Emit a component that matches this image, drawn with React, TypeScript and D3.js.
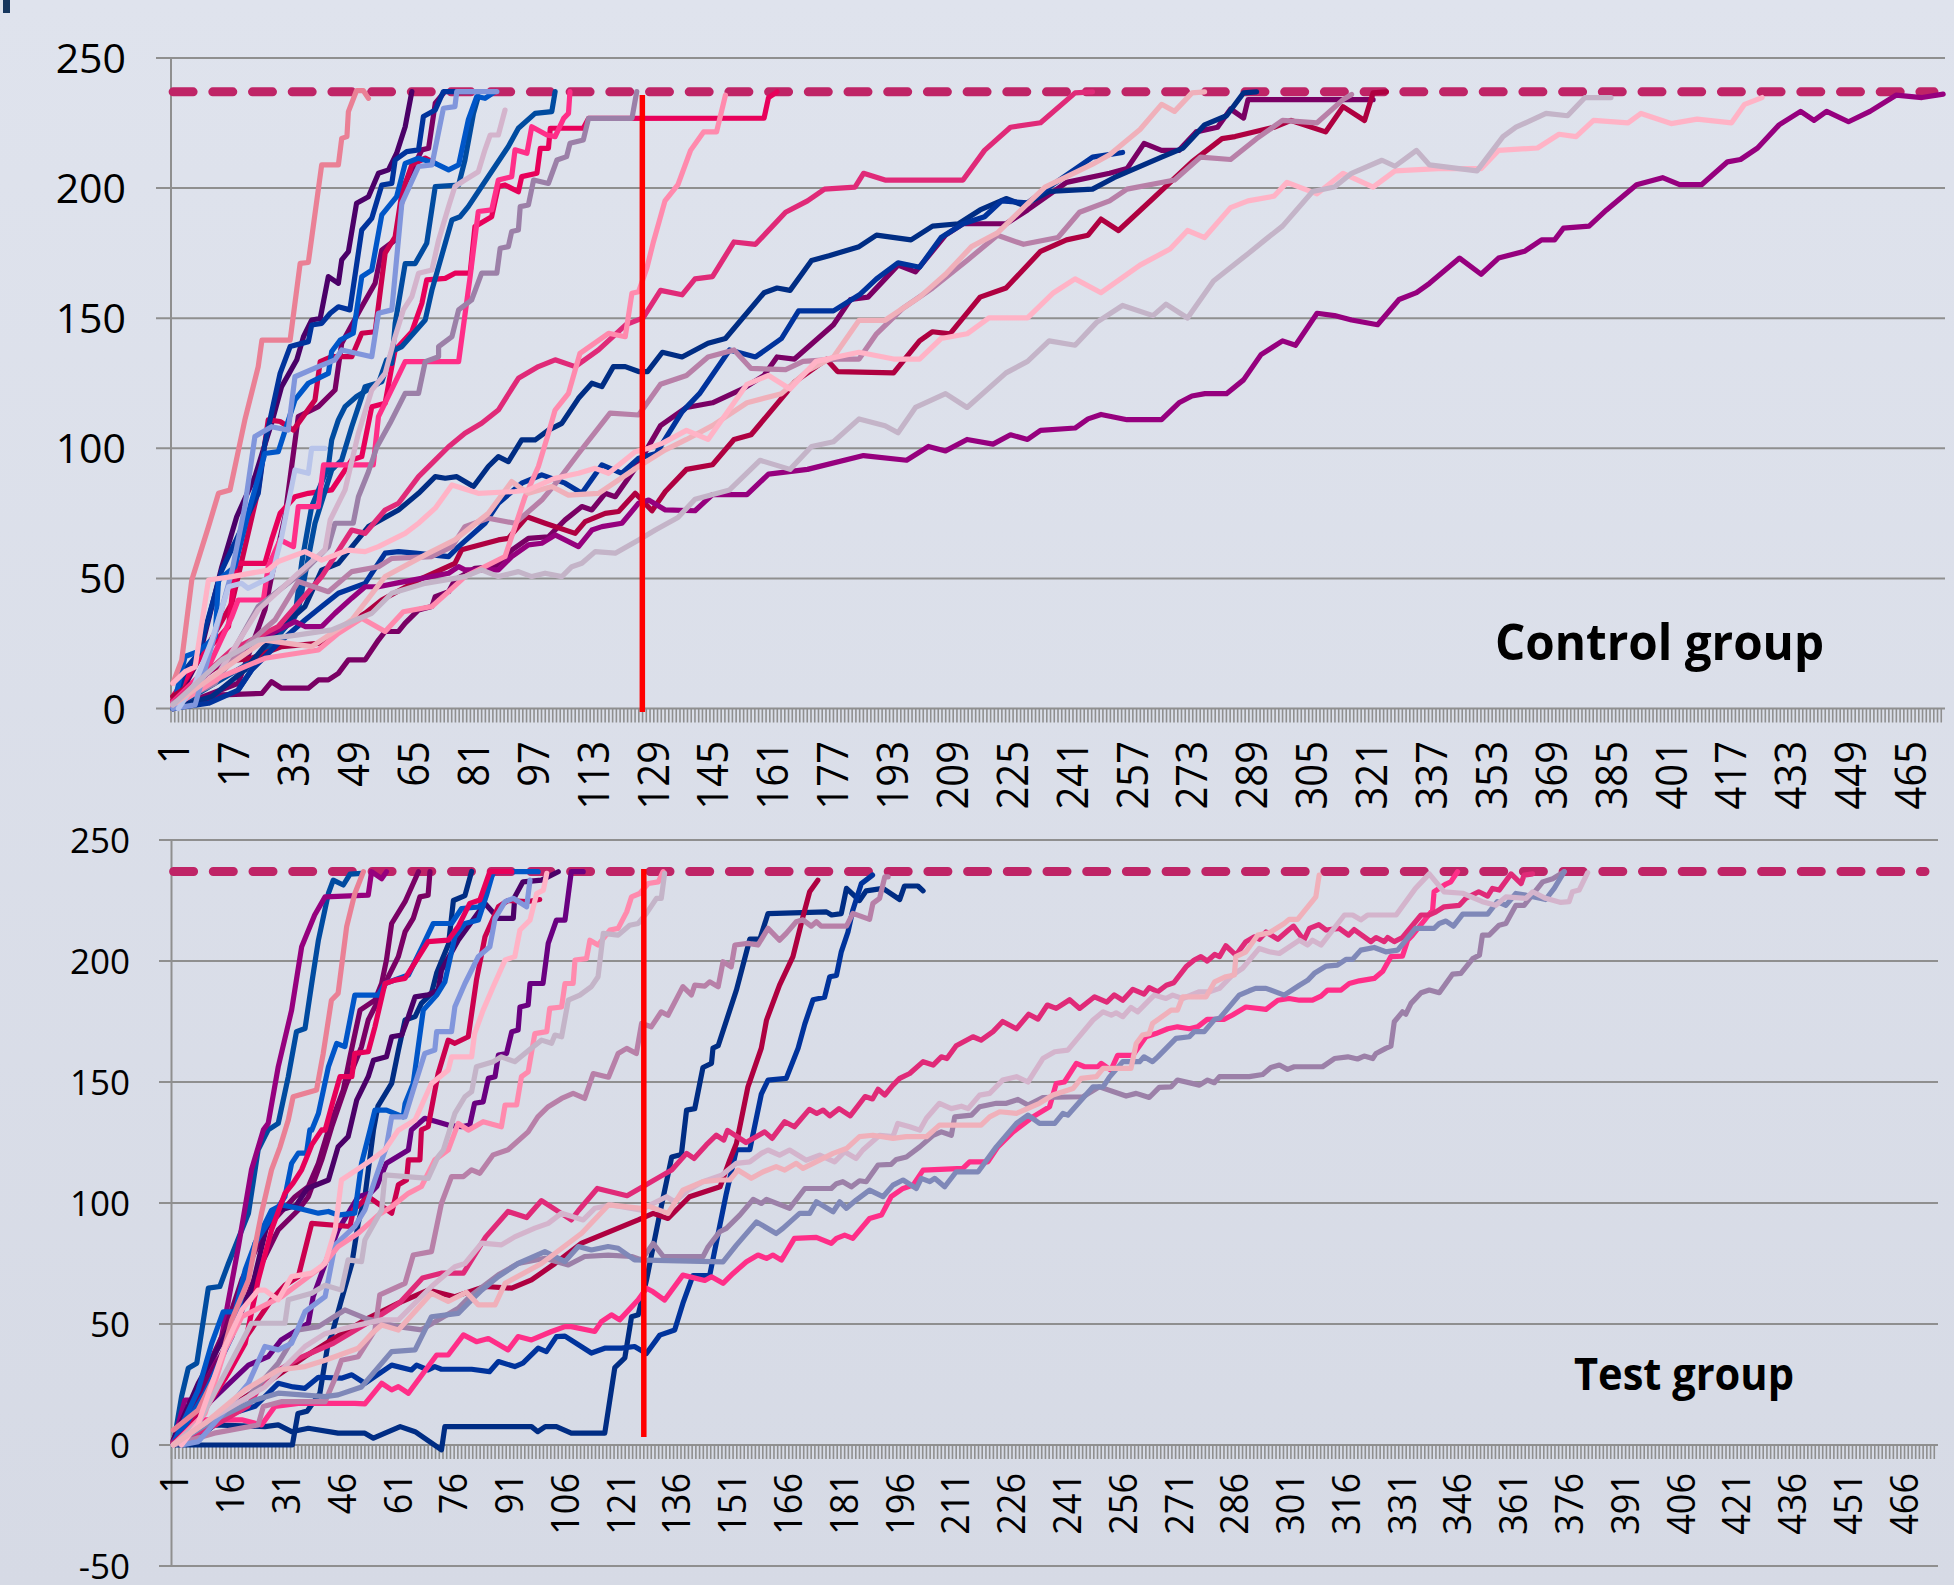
import React from "react";
import * as d3 from "d3";

// ---------- shared axis values ----------
const yTicksTop = [0, 50, 100, 150, 200, 250];
const yTicksBottom = [-50, 0, 50, 100, 150, 200, 250];
const targetValue = 237;
const cutoffCategory = 127.5;
const categoriesTop = d3.range(1, 475);
const categoriesBottom = d3.range(1, 476);
const xLabelsTop = d3.range(1, 475, 16);
const xLabelsBottom = d3.range(1, 476, 15);

// ---------- palette ----------
const NAVY = "#002D84", BLUE = "#00339C", BLUE3 = "#004BA0", BRIGHT = "#0056C8", PERI = "#8196DC", LPERI = "#B8C4EA", SLATE = "#7F88B8";
const DPURPLE = "#4B0068", PURPLE = "#6A0080", MAGENTA = "#96007E", PLUM = "#7A0064", CRIMSON = "#AF0040", RED2 = "#CC004E", HOTRED = "#E8005A";
const HOTPINK = "#FF2E88", ROSE = "#E02A78", PINKL = "#FF8AAD", SALMON = "#EA8095", BLUSH = "#F0B0BA", LPINK = "#FFB3C6";
const MAUVE = "#B880A8", MAUVE2 = "#9C80A8", GREYM = "#C4B4C8", PALE = "#D4B4CC";

// ---------- control group: category, value pairs ----------
const cL1 = [1,2,12.4,16,25.8,27.6,33.9,33.4,36.6,31.5,41.1,31.5,44.7,36.6,49.2,42.4,52.8,46.8,56.4,46.8,60.9,48.1,68,50,75.3,52,78,54.5,79.7,53.3,88.7,53.3,92.3,58.4,96.8,62.9,100.4,63.5,104,66.7,110.3,62.2,113.9,68.6,116.6,69.9,122,71.2,126.5,78.9,129.2,80.1,133.7,76.3,141.7,76,146.4,82.2,155.7,82.2,161.5,90.1,172,91.9,187.1,97.2,198.7,95.4,204.6,100.7,209.2,99,215,103.4,222,101.6,226.7,105.2,231.3,103.4,234.8,106.9,244.1,107.8,247.6,111.3,251.1,113,258.1,111,267.4,111,272.1,117.5,275.6,120.1,279.1,121,284.9,121,289.5,126.3,294.2,136,300,141.3,303.5,139.6,309.3,151.9,314,151,318.6,149.3,325.6,147.5,331.4,157.2,336.1,159.8,339.6,163.4,347.7,173.1,353.5,166.9,358.2,173.1,365.2,175.7,369.8,180.1,373.3,180.1,375.7,184.6,382.6,185.4,387.3,191.6,395.4,201.3,402.4,204,407,201.3,412.9,201.3,419.9,210.1,423.4,211,428,215.4,433.8,224.3,439.6,229.5,443.2,226,446.6,229.5,452.5,225.5,458.3,229.5,465.3,235.7,472.3,234.8,478,236.1];
const cL2 = [1,.7,10.6,3.3,14.2,5.2,25,5.8,27.6,10.3,30.3,7.8,37.5,7.8,40.2,11,42.9,11,45.6,13.5,48.3,18.7,52.8,18.7,56.4,26.3,58.2,29.6,61.8,29.6,63.6,32.8,67.2,37.9,70.8,39.2,71.7,43,75.3,44.9,77,49.4,82.4,53.9,87.8,54.5,92.3,60.9,96.8,65.4,102.2,66,106.7,72.5,111.2,77.6,113.9,76.3,117.5,82.7,120.2,81.4,126.5,94.2,132.4,108.7,139.4,115.7,146.4,117.5,154.5,122.8,160.3,128,163.8,135.1,168.5,134.3,179,147.5,183.6,157.2,188.3,158.1,196.4,170.4,201.1,167.8,209.2,181.9,213.9,186.3,225.5,186.3,231.3,191.6,241.8,202.2,253.4,205.7,258.1,207.5,262.7,217.2,267.4,214.5,272.1,214.5,276.7,221.6,282.5,223.4,286,230.4,289.5,226.9,290.7,234,316.3,234,324.4,234];
const cL3 = [1,0,11.5,4.6,20.4,14.8,29.4,30.2,36.6,39.2,41.1,53.2,45.6,55.8,53.7,69.9,61.8,76.3,67.2,82.7,71.7,89.1,74.4,88.5,77.5,89.1,82,85.3,86,93,88.7,96.8,91.4,94.9,95,103.2,98.6,103.2,102.2,107,105.8,109.6,110.3,119.2,113.9,125,116.6,123.7,119.7,131.4,122.9,131.4,126.5,129.5,128.9,129.5,132.9,136.9,138.2,135.1,145.2,140.4,149.9,142.2,160.3,159.8,163.8,161.6,167.3,160.7,173.1,172.2,177.8,174,185.9,177.5,190.6,181.9,199.9,180.1,205.7,185.4,212.7,186.3,218.5,191.6,225.5,196,230.2,193.4,237.1,198.7,248.8,199.6,254.6,204,267.4,211.9,273.2,215.4,279,224.3,284.9,227.8,289.5,236.6,293,237];
const cL4 = [1,0,10.6,2,18.6,7.1,22.2,14.8,29.4,25,36.6,34,41.1,39.2,45.6,44.3,52.8,48.1,58.2,59.7,61.8,60.3,66.3,59.7,75.3,58.4,78,62.2,85.1,71.2,88.7,78.9,95,86.6,100.4,89.8,106.7,86.6,111.2,82.7,116.6,93.6,122,90.4,126.5,96.2,131.2,98,138.2,114,142.9,121,151,137.8,158,135.1,165,142.2,169.6,152.8,179,152.8,186,159,190.6,165.1,196.4,171.3,202.2,169.6,208,181,213.9,186.3,219.7,189,224.3,195.1,231.3,194.3,237.1,200.4,248.8,211.9,256.9,213.7];
const cL5 = [1,2,16.9,22.5,29.4,31.5,41.1,50.7,49.2,68.6,52.8,67.3,58.2,76.3,61.8,78.9,67.2,89.1,70.8,94.2,75.3,100.6,79.7,105.8,84.2,109.6,88.7,114.7,94.1,126.9,99.5,131.4,104,134,109.4,131.4,115.7,137.8,123.1,147.5,127.7,150.1,132.4,160.7,138.2,159,141.7,165.1,146.4,166,152.2,179.3,158,178.4,166.1,190.7,172,195.1,176.6,199.6,184.8,200.4,187.1,205.7,192.9,203.1,213.9,203.1,219.7,214.5,226.7,223.4,234.8,225.1,244.1,236.6,248.8,237];
const cL6 = [1,9.7,4.3,14.2,7,16,10.6,49.4,16.9,50.7,26.7,53.2,29.4,56.5,36.6,60.3,41.1,57,48.3,60.9,52.8,60.3,56.4,62.2,63.6,67.3,67.2,71.2,71.7,77,76.2,85.9,83.3,82.7,93.2,83.4,96.8,84,104,88.5,110.3,90.4,114.8,92.3,118.4,90.4,125.6,98.7,129.2,100,133,102,139.4,106.9,145.2,103.4,155.7,124.6,161.5,128,167.3,122.8,174.3,133.4,185.9,136.9,195.2,134.3,202.2,134.3,208,142.2,215,144,220.9,150.1,231.3,150.1,238.3,159.8,244.1,165.1,251.1,159.8,261.6,170.4,269.7,176.6,274.4,183.7,279,181,286,192.5,290.7,195.1,297.7,196.9,301.2,202.2,309.3,197.8,316.3,205.7,324.4,200.4,330.3,206.6,341.9,207.5,353.5,207.5,358.2,214.5,368.7,215.4,374.5,220.7,379.1,219.8,383.8,226,393.1,225.1,396.6,228.7,404.7,224.8,411.7,226.5,421,225.1,424.5,232.2,429.2,234.8];
const cL7 = [1,4.6,15,18,22.2,19.3,30.3,23.8,40.2,25,52.8,36.6,57.3,41.7,67.2,49.4,77,55.8,78.8,61,88.7,64.8,91.4,65.4,96.4,73.7,101.3,71.2,109.4,67.3,112.1,71.8,117.5,75,121.1,75.7,125.6,82.7,130.1,76,133.7,83.4,139.4,91.9,146.4,93.7,152.2,103.4,156.8,105.2,166.1,121,168.5,125.4,177.1,134.2,180.1,129.5,195.2,129,202.2,141.3,205.7,144.8,210.4,144,218.5,158.1,225.5,161.6,234.8,175.7,241.8,180.1,247.6,181.9,251.1,188.1,255.8,183.7,265.1,196,275.6,210.1,283.7,219,287.2,219.8,297.7,223.4,302.3,226,311.6,221.6,316.3,231.3,322.1,226,324.4,236.6,328,237];
const cL8 = [1,2,12.4,11,21.3,25,28.5,34,34.8,48.8,42.9,44.9,49.2,52.6,56.4,54.5,60,57.7,70.8,58.4,76.2,62.2,79.7,69.9,86,73.1,93.2,71.2,100.4,80.1,104.9,87.8,110.3,98,118.8,113.5,126.5,112.8,132.4,124.6,139.4,128,145.2,135.1,152.2,137.8,156.8,130.7,166.1,130.2,170.8,133.4,180.1,134.3,185.9,134.3,190.6,144,197.6,153.7,205.7,161.6,215,172.2,223.2,181.9,230.2,178.4,239.5,181,245.3,190.7,253.4,195.1,258.1,199.6,270.9,203.1,277.9,211.9,286,211,293,219,300,226,309.3,225.1,316.3,234,318.6,236];
const cL9 = [1,1.4,14.2,18.7,24,26.3,34.8,28.3,43.8,30.2,54.6,36.6,60,44.3,69,48.1,79.7,50.7,84.2,53.3,88.7,50.7,94.1,52.6,97.7,50.7,101.3,52,105.8,50.7,108.5,54.5,111.2,55.8,114.8,60.3,120.2,59.7,126.5,64.8,131,68.6,137.1,73.4,141.7,80.4,151,84,159.2,95.4,167.3,91.9,173.1,100.7,179,102.5,185.9,111.3,192.9,108.7,196.4,106,201.1,115.7,209.2,121,215,115.7,225.5,129,231.3,133.4,237.1,141.3,244.1,139.6,249.9,148.4,256.9,154.9,265.1,151,268.6,155.4,274.4,150.1,281.4,164.3,290.7,174.8,295.3,180.1,300,185.4,308.1,198.7,314,200.4,318.6,205.7,326.8,210.7,330.3,208.4,336.1,214.5,339.6,208.9,352.4,206.6,359.4,219.8,362.9,223.4,371,228.7,376.8,227.8,381.5,234.8,388.5,234.8];
const cL10 = [1,1.4,25.8,26.3,38.4,23.8,49.2,34,58.2,50.7,69.9,59.7,77,64.8,86,75,92.3,87.2,96.8,82.7,103.1,85.3,107.6,82,115.7,82.7,126.5,93,133.7,99.4,139.4,103.4,146.4,108.7,155.7,117.5,165,121,172,129.8,179,135.1,185.9,149.2,192.9,149.2,202.2,158.1,209.2,166.9,216.2,177.5,223.2,182.8,230.2,192.5,236,200.4,248.8,209.2,253.4,212.8,261.6,222.5,267.4,232.2,270.9,229.5,275.6,236.6,279,237];
const cA = [1,9.7,3.4,18.7,6.1,49.4,10.6,69.9,13.3,82.7,16.4,84,20.4,110.9,24,131.4,25,141.6,32.6,141.6,35.3,171.1,37.5,171.4,41.1,208.9,45.6,208.9,46.5,219.1,47.9,219.8,48.3,229.4,50.5,237.5,52.3,237.5,53.7,234.5];
const cB = [1,0,7.9,18.7,14.2,54.5,18.2,73.7,23.1,89.1,27.6,109.6,30.3,123.7,34.4,134,36.2,142.9,38.4,149.3,40.7,149.9,42.9,166,45.6,163.4,46.5,172.4,48.3,175.6,50.5,194.2,53.7,196.7,56.4,205.7,59.1,207,61.3,213.4,63.6,223.6,65.4,237.1];
const cC = [1,0,4.3,14.8,7.9,21.2,14.2,53.2,24,82.7,25.8,101.9,29.9,128.8,32.6,139.1,37.5,141,38.4,147.4,41.1,148,43.4,151.9,45.6,154.4,48.7,153.2,51.9,183.9,54.6,188.4,57.3,201.2,60,201.8,60.9,210.8,64,214,67.2,214.7,68.5,227.5,71.7,230,73.9,237.1,81.5,237.1];
const cE = [1,0,4.3,20,7.9,21.9,12.4,27.6,13.3,49.4,17.7,54.5,21.3,75,25.8,98,29.4,98.7,33.9,118.6,37.5,125,42.9,128.8,43.8,137.2,46.1,141.6,49.6,144.2,51.9,166,54.6,168.5,57.3,189.7,61.3,196.7,63.6,209.5,67.2,211.5,71.7,209.5,75.3,207,78,208.9,80.6,226.2,82.9,235.2,85.1,234.5,87.8,237.1];
const cF = [18.6,7.1,25.8,22.5,33.9,35.3,35.7,55.8,38.4,77.6,42.9,93,43.8,103.2,45.6,110.9,47.4,116,50.5,119.9,56.4,125,58.6,134,60,132.7,60.9,148,63.6,171,66.3,171,69.4,178.8,71.7,200.6,78,201.2,79.7,210.8,82,228.7,83.3,235.2];
const cG = [1,0,25.8,21.2,34.8,37.9,39.3,71.2,43.8,91.7,46.5,95.5,49.2,108.3,52.8,123.7,57.3,125.6,60,137.2,62.7,139.1,69,149.3,70.8,160.8,74.4,178.8,76.2,187.8,78.4,189,80.6,192.9,84.2,200.6,91.4,216,94.1,223,98.6,228.7,103.1,229.4,104,237.1];
const cH = [1,0,7,1.4,12.4,29,16.9,52.6,20.4,77.6,23.1,104.5,27.6,108.3,32.1,107,33.9,127.5,40.2,131.4,44.7,134,46.5,137.8,54.6,135.2,56.4,151.9,60,153.2,62.7,194.2,67.2,208.3,70.8,208.9,73.9,230.7,77,231.3,77.5,237.1,88.3,237.1];
const cI = [2.5,0,7,9.7,11.5,26.3,16,46.8,19.5,48.1,21.3,46.2,27.6,50.7,30.3,66,33.9,91.7,37.5,90.4,38.4,100,42,100];
const cJ = [1,4.6,7.9,18.7,16,31.5,18,55.8,25.8,55.8,27.6,64.8,29.9,75,33.9,81.4,37.5,82.7,43.8,84,49.2,95.5,51.9,96.8,54.6,116,58.2,117.3,60,131.4,60.9,137.8,65.4,144.8,68.1,155.7,69.4,164.7,74.4,165.3,77,167.3,81.1,167.3,82.4,185.2,86.9,189,88.7,200.6,90.5,201.2,94.1,198.6,95,204.4,99.1,205.7,100,215.3,102.2,215.3,102.7,223,111.6,223,113,226.8,160.3,226.9,161.5,234.8,163.8,237];
const cK = [1,2.6,10.6,16,16.9,35.3,18.6,41.7,25.4,41.7,26.7,54.5,29.9,64.8,33.5,62.2,34.8,77.6,40.2,77.6,41.6,93.6,55,93.6,56.4,112.2,63.6,133.3,78,133.3,81.1,166,83.3,191,86.9,191.6,88.7,203.1,92.3,204.4,93.2,214.7,96.4,213.4,97.7,223.6,101.8,220.4,104,219.8,106.3,226.8,107.6,228.7,108,237.1];
const cM = [1,1.4,12.4,9.7,24,39.2,36.6,53.2,42.9,62.2,44.7,71.2,49.6,71.2,51,81.4,53.7,91,56,100.6,59.5,109.6,63.6,121.1,67.2,121.1,69,133.3,72.6,135.2,72.6,139.1,76.2,142.9,78,153.2,81.5,157,84.2,167.3,88.3,167.3,89.2,176.9,91.4,177.5,92.3,183.3,94.1,183.9,94.6,192.9,96.8,193.5,98.2,203.1,102.2,201.8,104.5,210.8,107.1,212.1,108,217.2,111.6,218.5,113,226.8,124.7,226.8,126,237.1];
const cN = [1,1.4,13.3,13.5,24,37.9,34.8,52,42,60.9,43.4,72.5,47.4,84,51,105.8,54.6,122.4,58.2,128.8,60.9,143,63.1,153.2,65.4,158.3,67.2,167.3,70.8,168.5,72.6,180,75.3,192.9,77,200.6,79.7,203.1,83.3,206.3,85.1,214.7,86.5,220.4,88.7,220.4,90.5,230];
const cO = [1,.7,14.2,12.3,25.8,19.3,40.2,22.5,45.6,28.9,51.9,34.7,58.2,29.6,63.1,37.2,70.8,39.2,75.3,44.9,79.7,50.7,90.5,58.4,92.3,66,95.9,81.4,99.5,93,102.2,105.8,104,114.7,107.6,121.1,110.7,136.5,118.4,144.2,122.9,142.9,124.7,159.6,126.5,160.2,128.7,169.2,130.5,179.4,133.6,195.1,137.1,201.3,140.5,214.5,144,221.6,147.5,221.6,149.9,235.7];
const cP = [1,3.3,9.7,22.5,16.9,40.4,24,84,26.7,110.9,29.9,110.3,33.5,107,39.3,118.6,40.7,133.3,43.8,135.2,49.2,135.2,51.9,144.2,55.5,144.8,58.2,175,60.9,181.3,62.7,198,65.4,208.9,69,211.5,71.7,209.5];
const cQ = [1,0,18.6,9.7,25.8,37.9,27.6,50.7,31.2,73.7,34.8,112.2,40.2,116,44.7,122.4,46.5,140.4,51.9,154.4,55.5,163.4,57.3,176.2,60.9,180,63.6,201.8,68.1,214.7,69.9,215.3,71.7,232.6,73.9,236.4];

// ---------- test group: category, value pairs ----------
const tT1 = [1,.7,12,8,21,16,26,28,35,36,44,42,56,53,62,59,68,69,73,71,79,71,85,86,91,96.5,96,94,100,101,108,93,110,97,115,106,123,103,128,107.4,132,111,135,113.6,139,120.5,141,118.4,144.3,124,147,128,149,126,150,130,155,125,160,129.4,162,126.7,165.4,133.6,168,131.5,172,138.7,174,137,175.7,138.4,177.5,136,180,139,183,136,187,144,189,143,190.5,147,192.3,144.6,194.5,148.7,196.3,151.5,199,153.5,202.6,158.4,205.3,157,207.5,160.4,209,159.7,211.5,165,216,168.7,218.2,167.3,221.4,170.8,224,175,227.7,172,231,178,233.5,176,236,181.8,238.4,180.4,242,184,244.7,180.4,248.7,185.2,252,183,254,186,256.3,183.8,259,188.3,262,186.3,263.4,189,265.7,187.3,268,190,270,191,273.3,197.6,275.5,200.4,277.3,201.8,279,200,281,202.7,282.3,201.8,284,206.3,286.7,202.4,289.4,208,291.7,210,293,209,294.8,212,298,209,301,213,302.2,214.4,305,208.6,306.5,213.5,309,215,311,212.8,314.5,213.5,317,210.7,318.5,213,323,208,324.4,209.7,326.6,208,327.5,209.7,329.3,208,331.5,209.7,336.5,219,338.7,219,340.5,220.3,342.7,222.4,346.8,223,348.6,226,352,228.6,354.4,226.8,355.7,230,357.5,229.3,360.7,236,363.4,232,364.2,235.5,366.5,236];
const tT2 = [1,0,33,0,34.5,13,37,14,40.4,21.4,42.6,42,43.5,45,46.2,60,49,75,50.7,91.6,52.5,102.6,54.8,130,56,140,59.7,149.4,61.5,163,63.3,175.6,66,177,67.7,182.5,70.4,186.6,71.8,195,75,207,76.3,225,79.4,227,81.2,237];
const tT3 = [1,0,7.7,2.8,12,8.3,25.6,7.6,29.2,8.3,32.8,5.5,37.3,6.9,45.3,4.9,52.5,4.9,54.8,2.8,57.9,4.9,62,7.6,66,5.5,73.1,-2,74,7.6,82,7.6,97.3,7.6,99,5.5,101,7.6,104,7.6,108,4.9,117,4.9,119.7,32,122.4,36,124.2,53,126,53.8,128.2,68,131.8,95.7,135,119,137.6,120,139,138.4,141.2,139,143.4,156,145.7,157.7,146.1,164,147.5,165,152.4,188,156,209,158.7,209,160.9,219.6,176.6,220.3,178,219,180.6,219.6,182,230,185.5,225,187.3,229,191.8,230,196.3,225.4,197.6,231,201.2,231,202.6,229];
const tT4 = [1,0,7.7,6.2,16.7,13,23,16,29.2,25.5,33.2,24,36.4,23.4,40,28,46.2,27.6,49,29,52.5,25.5,59.7,33,65,31,66.4,33,69.5,31,71.3,32.4,73.1,31.3,81.2,31.3,86,30.3,88.4,34.5,92.8,32.4,95,33.8,99.1,40,101.3,38.6,104,44.8,106.3,45,113.4,38,117,40,121.5,40,125,40.7,128.2,37.8,131.8,45.4,135.8,47.5,138,58.5,140.7,70,145.2,70,149.7,104,152.4,122,156,122,159.1,145,160.9,150.8,165.8,151.5,169,164,170.8,174,173,184,176.1,185,177.5,193.5,179.3,194,180.6,203.8,182.4,212,183.7,221,186,232,189,235.5];
const tT5 = [1,.7,16.7,16,28.3,28,36.4,36.5,43.5,43.4,52.5,51.7,61.5,58.6,69.5,64,76.7,61.3,84.8,65.5,92,64.8,97.3,68.2,103.6,75,110.8,83.4,118,88,126,93,130,95.7,134,93.6,139.8,102.6,148,106.7,150.6,117.7,152.4,124.6,155.5,148,159.1,164,160.5,175.6,164,190,167.6,201.8,170.3,218.3,172.1,228.6,174.3,233.4];
const tT6 = [1,0,12,4.9,23.8,8.3,25.2,15.9,30,17.9,41.8,17.9,44.5,27.6,46.2,35,50.7,36.5,55.2,47.5,56.5,62,63.3,66.8,65.5,78.5,70.4,79.9,73.1,99.9,75.8,110.9,79,110.9,81.2,113.7,83.4,112.3,87,119.9,91,122,96.4,129.4,99,135.6,101.8,139.8,105.4,143.2,108.5,145.3,111.6,143.2,113.9,153.5,118,152,120.6,161.8,122.9,163.9,125.5,161.8,126.9,174.2,129.5,172.8,132.2,179,134,177.6,138,189.4,140.3,186,141.2,190,143.9,189.6,145.2,191.4,147.5,189.4,148.8,199.7,151,197.6,152,206.6,155.5,207.3,158.2,206.6,160.9,213.5,164,208.6,165.8,211.4,168.5,216.2,170.3,217,172.5,214.4,173.9,216.2,175.2,214.4,182,214.4,183.7,219.7,188.2,217.2,189.1,223.8,190.9,225.9,192.3,234.8,193.2,234.8];
const tT7 = [1,0,12,10.4,23,18.6,29.2,21.4,41.8,20,45.3,20.7,51.6,24,59.7,38.6,66,39.3,70.4,53,77.6,54.4,80.3,58.6,83.9,64,88.4,69.6,93.7,75,100.9,79.9,106.3,75.8,109.9,82,113.4,80.6,117.9,82,120.6,81.3,125,76.5,128.2,76.4,148.8,75.7,152.4,82.6,157.8,92.2,163.1,87.4,164.9,89.5,169.4,95.7,172.1,95.7,173.9,100.5,178.4,96.4,180.2,100.5,182,97.8,184.6,101.2,188.2,105.3,191.8,102.6,194.5,107.4,197.2,109.5,200.8,106,202.1,110.2,204.4,108.8,205.7,110.2,208.4,106.7,211.5,112.9,217.4,112.9,222.3,123.2,227.7,132.9,230.8,136.3,233.9,132.9,238,132.9,240.2,137,241.5,136.3,248.3,148,251,148,252.7,152,256.3,158.4,260.8,158.4,262,160.4,264.3,158.4,265.7,160.4,270.6,168,274.2,168.7,275.5,170.8,278.2,170.8,281,175.9,282.3,176.3,287.6,185.9,290.3,187.7,292,188.7,294.8,188.7,299.7,185.9,303.8,190,306,192,307.8,194.9,311,197.9,314,198.3,316.3,200.7,318.1,200.7,320.3,204.5,323.9,205.6,327,203.8,330.2,204.5,335,213.5,340,213.5,341.4,215.5,343.2,216.5,345.2,214.4,347.7,219.4,354.4,219.4,357,224.5,359.3,223,362,227.9,364.7,227.2,370,225.4,372.3,230,375,236.9];
const tT8 = [1,0,7.7,10.4,19.4,10.4,24.7,8.3,28.3,15.9,34.6,17.2,41.8,17.2,49.8,17.2,52.5,17,57,25.5,59.7,22.8,61.5,24.1,64.2,21.4,71.8,37.2,74.9,37.2,79,45.5,82.5,42.7,85.7,44,91,39.3,93.7,44.8,97.3,43.4,102.7,46.9,106.3,48.9,108,48.9,114.3,46.9,116.1,51,118.8,53.8,121,51.7,126,60,128.2,64.8,130,63.3,133.1,59.9,138,70.2,143.9,68,145.7,69.5,148.8,66.8,151.5,70.9,155.1,75.7,158.2,78.5,160.5,77.1,162.2,78.5,164.5,76.4,168,85.4,173.9,85.8,177.9,83.3,179.3,85.4,181.5,86.7,183.7,85.4,188.2,93.6,191.4,95,194,102.6,197.2,106,199.9,107.4,202.6,113.6,213.3,114.3,215.1,117,220,117,222.7,123.2,226.8,129.4,232.1,135.6,236.6,139.8,238.4,149.4,240.6,150,243.8,157.7,246,156.3,249.6,156.3,250.5,157.7,253.1,154.9,254.9,161,259,161,262.5,168.7,265.2,170,268.4,172,271,172.8,274.2,172,276.4,172.8,279,175.9,283.6,175.9,285.8,177.7,289.4,181,294.8,180,298,183.8,301,184.5,303.8,183.8,307.3,183.8,309.6,185.5,311.4,188,315,188,317.2,190.7,319.9,191.8,323.9,192.8,326.2,195.8,328.4,201.8,331.5,202,332.9,208.6,334.2,210.7,339.6,221,340,228.6,343.2,231.8,344.5,232.7,346.3,236.9];
const tT9 = [1,0,9.5,9,20.3,22.8,29.2,31,36.4,32.4,41.8,35,50.7,40,54.3,46,57,49.6,61.5,47.5,70.4,62.7,74.9,59.3,79.8,63.1,83,57.9,87.5,57.9,90.2,66.8,100,75,110.8,87.5,118,99.2,126.9,97.8,128.2,99,134,95.7,138,105.3,143.4,108.8,147.9,109.5,150.6,109.5,152.8,113.6,156.4,110.2,159.6,112.9,163.1,115,165.4,113.6,168.5,116.4,170.3,114.3,178.4,120.5,182,122.5,185.5,127.4,189.1,128,194.5,126.7,198.1,127.4,203.5,127.4,207,132.2,212.4,132.2,218.2,132.2,220.5,135.6,223.2,137.7,227.7,137,233.9,141.2,237.5,144.6,242.9,147.3,245.1,151.5,249.2,152.2,251,155.6,258.5,155.6,259.9,165.9,261.6,169.4,263.4,170,264.3,174.2,269.3,179.7,271,179.7,272.4,185.2,278.7,185.2,281,191.4,284,193.5,286.3,194.2,286.7,201.8,289.4,203.8,292.6,210.7,295.7,211.7,299.7,215.5,301,217.2,303.3,217.2,308.2,226.5,309.1,235.5];
const tT10 = [1,0,12,11.7,25.6,24,36.4,40.7,41.8,46,49,49,57,51.7,61.5,51.7,70.4,65.5,76.7,73.7,79.4,75,83.9,83.4,89.2,82.7,92.8,86,98.2,89.6,101.8,91.6,105.4,95.8,111.2,93,114.3,97.8,118.8,99.2,126.9,97,128.2,98.4,133.6,102.6,135.8,100.5,139.4,105.3,143.4,108.8,148.4,111.5,152.4,116.4,156,117,159.1,120.5,160.9,121.9,164,119.8,166.7,121.9,171.2,117.7,174.8,119.8,178.8,117,181.5,121.2,184.6,118.4,186.4,121.9,190.9,128,194.5,127.4,195.8,132.9,199,131.5,201.7,130.1,203.5,135,207,141.2,210.2,139,212.9,140,214.7,139,217.8,144.6,220.5,145.3,224,150.8,227.7,152.2,230.8,150,234.8,159.7,238,162.5,241.5,163.2,248.3,175.6,251,179,253.2,177.6,254.5,178.6,256.3,177,258.5,180.8,260.3,179,263.4,183.8,264.8,185.9,267.9,184.5,269.7,185.9,272.4,184.5,276.9,187.3,279.6,187.3,282.3,188.7,285.8,194.2,288.5,197,293,205.2,295.7,203.8,298.4,203.1,303.8,208.6,306,206.6,307.3,208.6,309.6,206.6,315.9,219,318.1,219,320.3,217,322.1,219,329.8,219,335,230,338.7,236,342.7,228.6,347.7,228,353,224.5,356.6,223,359.3,226.5,364.7,225.9,366.5,228.6,370,225.9,374.1,224.2,376.3,224.5,377.2,228.6,379,229.3,381.3,236.5];
const tT11 = [1,0,9.5,9,21.2,20,29.2,33.8,34.6,47.6,40,48.9,47.1,55.8,52.5,52.4,61.5,48.9,67.7,47.6,77.6,56.5,81.2,62,88.4,70.3,93.7,75,100.9,77.2,107.2,74.4,111.6,77.9,117.9,78.5,124.2,77.9,126.9,76.5,130,83.3,132.7,78,143.4,77.8,144.8,81.9,147.9,88.1,149.7,89.5,153.3,95,156.9,101.5,159.1,99.8,160.5,101.5,166.7,97.8,170.8,106,177.9,106,179.3,108,181,108.8,183.3,106.7,185.5,109.2,187.3,108.8,190.5,115.7,194,116,195.4,118,198.1,119,201.7,123.2,205.3,128,207.5,129.4,210.2,128,211.1,135.6,215.6,136.3,217.8,139.8,222.3,141.2,225,141.2,228.1,142.8,230.8,140.5,234.8,143.6,245.6,143.9,250,148,257.2,144.2,259.9,145.3,263.4,143.6,266.1,147.8,269.3,148,271,150.8,276.9,148.7,279.1,150.8,280.9,149.7,282.3,152.2,286.7,152.2,290.3,152.2,293.9,153.1,296.1,156,298.4,157,300.6,155.2,302.4,156.3,310,156.3,313.2,159.7,316.8,160.4,319.4,159.5,321.2,160.7,323.5,159.7,324.4,161.8,327,163.9,328.4,164.8,329.3,174.9,331.5,179,332.4,178,333.8,182.5,336.5,186.9,338.7,188,341.4,186.9,345,194.6,347.2,194.9,350.4,201,352.2,202.4,353,210.7,354.8,210.7,357.5,214.8,359.3,215.5,362,223,364.2,223,369.2,232.7,371.9,234,375,236.9];
const tS1 = [1,.7,4.1,18.6,7.7,18.6,14,44.8,18.5,82,22,113.7,25.2,130.2,26.5,132.9,29.2,156.3,32.8,179.7,35.5,205.9,39,219,41.8,226.5,53.4,227.2,54.3,236.9,57,234,58.3,236.9];
const tS2 = [1,0,3.2,20,5,31.7,7.3,33.8,10.4,64.8,13.5,65.5,15.8,75,21.2,95.8,23.8,122,26.5,130.2,29.2,132.9,31.9,152.2,34.1,170.8,36.4,172.1,38.2,190.7,40,208.6,42.7,228,44,233.4,46.7,231.4,48.5,235.9,51.6,236.2];
const tS3 = [1,6.2,7.7,14.5,13.1,31,16.7,51.7,21.2,68.2,24.7,95.8,27.4,113.7,29.7,123.2,31.9,134.3,33.2,143.9,39.5,146.7,41.3,161.8,43.5,183.8,45.3,186.6,47.6,214.2,49.8,227.9,52.1,236.9];
const tS4 = [1,.7,7.7,22.8,11.3,42,14.4,55,17.6,55,20.3,72.3,23,83.4,27.4,97,30.1,99.2,34.6,97.8,40,95.8,42.7,96.5,45.3,95,49.8,95.8,51.6,116.4,53.9,130.2,55.2,138.4,58.3,138.4,62.8,135.6,63.3,141,65.5,149.4,68.2,179.7,71.8,185.9,74,191.4,76.7,210,79.4,215.5,83,216.9,85.2,227.2,87,236.9,89.7,236.9,96.4,236.9,99.1,236.9];
const tS5 = [1,0,9.5,21.4,16.7,44.8,23,83.4,31,102.6,32.8,116.4,34.6,120.6,36.8,120.6,37.7,130.2,38.2,130.1,40,137,42.7,156.3,44.9,165.9,47.1,164.6,49.8,185.9,56.1,185.9,57.9,190.7,64.2,194.2,67.7,205.2,70.9,215.5,75.8,215.5,78.5,221.7,83.4,222.4,86.1,233.4,87,236.2];
const tS6 = [1,.7,7.7,10.4,15.8,29.6,20.3,42,23.8,68,27.4,88.9,31,104,33.2,108.2,35.5,113.7,38.2,124,40.9,130.2,41.8,130.1,44,142.5,45.8,152.2,49,152.2,49.8,161.8,53.4,162.5,55.2,172.8,57.9,190.7,60.6,192.1,63.3,192.8,69.5,208,74.9,208.6,77.6,214.2,80.7,223.8,83.4,225.2,86.1,236.9,92,236.9];
const tPlumA = [1,2,7.7,24,14.9,47.6,19.4,68.2,25.6,88.9,33.7,102.6,37.3,106.8,40,116.4,42.7,130.2,46.7,146.7,48.5,160.4,51.2,179.7,55.2,183.8,57,190.7,58.3,200.4,59.7,215.5,63.3,224.5,66.9,236.9];
const tPlumB = [1,1.4,9.5,25.5,16.7,44.8,23,69.6,29.2,88.9,34.6,97.1,37.3,102.6,40.9,117.8,43.6,131.5,47.6,149.4,51.6,164.6,53.4,175.6,56.1,183.8,58.8,193.5,61.5,201.8,63.3,212,65.5,217.6,67.3,226.5,69.5,227.2,70,236.9];
const tS8 = [1,2,7.7,25.5,15.8,47.6,22,64,26.5,93,29.7,97.1,34,99,37,106,42.7,109.5,45.3,123.2,48,127.4,50.3,142.5,53.4,152.2,54.8,159,58.3,160.4,59.7,168.7,62.4,169.4,64.2,177,66,185.2,69.5,186,72.2,188,73.1,196.2,77.6,208.6,84.8,223.8,88.4,217.6,92.4,217.6,92.8,226.5,95,232.7,100,233.4,104.5,236.9];
const tS10 = [3.2,0,7.7,1.4,16.7,17.2,21.2,25.5,25.6,40.7,29.2,39.3,32.8,42,36.4,55.1,41.8,61.3,44.5,82.7,49.8,90.3,52.5,97.1,55.2,109.5,58.3,123.3,59.7,135.6,63.3,135.6,65.5,146.7,68.6,161.8,71.3,163.2,71.8,170.8,75.8,170.8,76.7,181.1,79.4,190.7,83,201.8,86.1,205.9,87.5,217.6,90.2,224.5,92.4,225.9,96,222.4,96.9,233.4];
const tS11 = [1,1.4,14.9,27.6,19.4,42,27.4,60,31,66,34.6,69.6,38.2,91.6,48.5,90.3,49.4,97.1,53.4,102.6,59.7,95.8,61.5,107.5,63.7,109.5,64.2,117.8,67.3,117.8,67.7,130.2,69.5,131.5,72.2,153.5,74.9,167.3,76.7,166,80.3,168.7,82.5,192.1,84.8,210,88.4,222.4,91,225,96,224.5,99.5,225.4];
const tS12 = [3.2,0,7.7,9,14.9,40.7,19.4,55.8,23.8,64,25.6,64,29.2,60,32.8,69.6,38.2,71,41.8,75,44.5,88.9,46.2,109.5,50.3,113.7,54.3,117.8,57.9,122,61.5,130.1,66,134.3,70.4,149.4,74.9,154.9,75.8,160.4,81.2,160.4,82,170,84.3,179.7,87,189.4,90.2,200.4,92.8,201.8,94.2,212.8,96.9,216.9,98.7,227.9,100.5,229.3,101.4,236.2];
const tS13 = [1,0,9.5,13,14.9,39.3,19.4,53,30.1,61.3,40.9,73.7,45.3,82,50.7,87.5,56.1,95,59.7,98.5,64.2,104,67.7,106.8,71.3,117.8,74.9,121.9,77.6,132.9,80.3,130.1,84.3,133.6,89.2,131.5,90.2,140.5,93.3,140.5,94.6,152.2,96.4,154.2,98.2,170,101.4,170.8,102.2,180.4,105.4,181,106.3,190.7,108.5,190.7,109,200.4,112.1,201,113,208.6,115.2,206.6,118.4,212.8,120.6,213.5,122.9,220.3,124.2,226.5,126.4,227.9,128.7,232,131.4,232.7,132.7,236.9];
const tS14 = [1,0,7.7,9,14.9,29.6,22,50.3,31,50.3,31.9,60,38.2,62.7,41.8,66,46.2,64,48,76.5,51.6,75.8,52.5,84.7,57,97.1,57.9,111.6,69.5,110.2,72.2,119.2,73.6,121.9,76.7,137,79.4,143.9,81.2,146,82.5,156.3,87,158.4,89.2,160.4,92.8,158.4,95.5,161.8,100,167.3,102.7,166,103.6,169.4,105.4,168.7,107.2,183.8,110.3,185.9,113.4,189.4,115.2,193.5,116.6,211.4,120.6,210.7,123.7,214.8,126,215.5,128.2,219.7,130.9,225.9,132.2,225.9,133.1,236.2];
const tS15 = [1,1.4,9.5,15.9,21.2,33,26.5,36.5,30,43.4,37.3,50.3,38.6,61.3,42.2,76.5,45.3,88.9,50.7,102.6,53.9,104,55.7,106.8,58.3,116.4,64.2,121.9,65,130.2,68.6,135,74.9,132.2,78.5,131.5,80.7,132.2,82,141.2,84.3,141.8,85.7,151.5,87.5,152.2,88.4,161.1,90.6,161.8,92,170.8,93.7,171.5,94.2,181,96.4,181.8,96.9,190.7,100.4,190.7,101.8,207.3,104,216.9,106.3,216.9,108,236.9,111.2,236.9];

const controlSeries: [number[], string][] = [
  [cB, DPURPLE], [cQ, PLUM], [cP, RED2], [cJ, HOTRED], [cC, BLUE], [cF, BLUE3], [cG, BLUE3], [cE, BRIGHT],
  [cL2, PLUM], [cL7, CRIMSON], [cL3, NAVY], [cL4, BLUE], [cL1, MAGENTA], [cK, HOTPINK], [cL5, ROSE],
  [cM, MAUVE2], [cL8, MAUVE], [cN, PALE], [cO, PINKL], [cA, SALMON], [cH, PERI], [cI, LPERI], [cL10, BLUSH], [cL6, LPINK], [cL9, GREYM],
];
const testSeries: [number[], string][] = [
  [tT3, NAVY], [tT2, NAVY], [tT4, BLUE], [tS2, BLUE3], [tS1, MAGENTA], [tPlumA, PLUM], [tPlumB, PLUM], [tS8, DPURPLE], [tS15, PURPLE],
  [tS11, RED2], [tT5, CRIMSON], [tS5, BRIGHT], [tS4, BRIGHT], [tS6, HOTRED], [tT8, HOTPINK], [tT1, ROSE], [tS3, SALMON],
  [tT11, MAUVE2], [tT6, MAUVE], [tT7, SLATE], [tS10, PERI], [tS13, PINKL], [tS14, GREYM], [tS12, LPINK], [tT10, PALE], [tT9, BLUSH],
];

const toPairs = (a: number[]) => d3.range(0, a.length, 2).map((i) => [a[i], a[i + 1]] as [number, number]);

type PanelProps = {
  series: [number[], string][]; categories: number[]; xLabels: number[]; yTicks: number[];
  left: number; right: number; seriesRange: number; y250: number; y0: number; gridLeft: number; tickLen: number;
  yFont: number; yTextX: number; xFont: number; xScaleY: number; xTextTop: number;
  dashEnd: number; redTop: number; redBottom: number; axisBottom: number;
};

function Panel(p: PanelProps) {
  const x = d3.scaleLinear().domain([0.5, p.categories.length + 0.5]).range([p.left, p.right]);
  const xs = d3.scaleLinear().domain([0.5, p.seriesRange + 0.5]).range([p.left, p.right]);
  const y = d3.scaleLinear().domain([0, 250]).range([p.y0, p.y250]);
  const line = d3.line<[number, number]>().x((d) => xs(d[0])).y((d) => y(d[1]));
  const grey = "#8f8f8f";
  return (
    <g>
      {p.yTicks.map((t) => (
        <line key={t} x1={p.gridLeft} x2={p.right} y1={y(t)} y2={y(t)} stroke={grey} strokeWidth={2} />
      ))}
      <line x1={p.left} x2={p.left} y1={p.y250} y2={p.axisBottom} stroke={grey} strokeWidth={2} />
      {p.categories.map((c) => (
        <line key={c} x1={x(c - 0.5)} x2={x(c - 0.5)} y1={p.y0} y2={p.y0 + p.tickLen} stroke={grey} strokeWidth={1.6} />
      ))}
      <line x1={x(0.5)} x2={p.dashEnd} y1={y(targetValue)} y2={y(targetValue)} stroke="#BF2466" strokeWidth={9}
        strokeDasharray="20 19.7" strokeLinecap="round" strokeDashoffset={-2.1} />
      {p.series.map(([vals, color], i) => (
        <path key={i} d={line(toPairs(vals)) || ""} fill="none" stroke={color} strokeWidth={5.2} strokeLinejoin="round" strokeLinecap="round" />
      ))}
      <line x1={xs(cutoffCategory)} x2={xs(cutoffCategory)} y1={p.redTop} y2={p.redBottom} stroke="#FF0000" strokeWidth={5.5} />
      {p.yTicks.map((t) => (
        <text key={t} x={p.yTextX} y={y(t) - 1} textAnchor="end" dominantBaseline="central" fontFamily="'Open Sans'" fontSize={p.yFont} fill="#000">{t}</text>
      ))}
      {p.xLabels.map((l) => (
        <text key={l} transform={`translate(${x(l)},${p.xTextTop}) rotate(-90) scale(1,${p.xScaleY})`} textAnchor="end" dominantBaseline="central"
          fontFamily="'Open Sans'" fontSize={p.xFont} fill="#000">{l}</text>
      ))}
    </g>
  );
}

export default function App() {
  return (
    <svg width={1954} height={1585} viewBox="0 0 1954 1585" style={{ position: "absolute", left: 0, top: 0, display: "block" }}>
      <defs>
        <linearGradient id="bg" x1="0" y1="0" x2="0" y2="1">
          <stop offset="0" stopColor="#DFE3ED" />
          <stop offset="1" stopColor="#D6DAE5" />
        </linearGradient>
      </defs>
      <rect width={1954} height={1585} fill="url(#bg)" />
      <rect x={3} y={0} width={7} height={13} fill="#17375E" />
      <Panel series={controlSeries} categories={categoriesTop} xLabels={xLabelsTop} yTicks={yTicksTop}
        left={171} right={1945} seriesRange={478} y250={58} y0={708.5} gridLeft={156} tickLen={14}
        yFont={41} yTextX={126} xFont={40} xScaleY={1.08} xTextTop={741} dashEnd={1934} redTop={95} redBottom={712} axisBottom={708.5} />
      <Panel series={testSeries} categories={categoriesBottom} xLabels={xLabelsBottom} yTicks={yTicksBottom}
        left={171.5} right={1938} seriesRange={475} y250={840} y0={1445} gridLeft={159} tickLen={14}
        yFont={35} yTextX={130} xFont={36} xScaleY={1.08} xTextTop={1473} dashEnd={1925} redTop={869} redBottom={1437} axisBottom={1566} />
      <text x={1495} y={660} fontFamily="'Open Sans'" fontWeight={700} fontSize={50} textLength={329} lengthAdjust="spacingAndGlyphs" fill="#000">Control group</text>
      <text x={1574} y={1390} fontFamily="'Open Sans'" fontWeight={700} fontSize={44} textLength={220} lengthAdjust="spacingAndGlyphs" fill="#000">Test group</text>
    </svg>
  );
}
